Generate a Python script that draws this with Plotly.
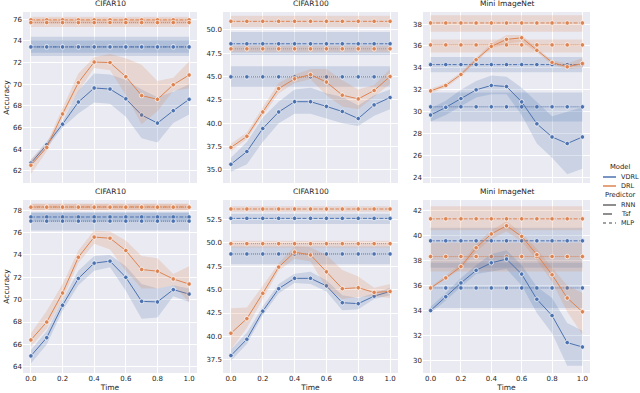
import plotly.graph_objects as go

# time steps on the x axis
t = [0.0, 0.1, 0.2, 0.3, 0.4, 0.5, 0.6, 0.7, 0.8, 0.9, 1.0]

# ---- top row, CIFAR10 ----
a1_vdrl_rnn = [62.7, 64.4, 66.3, 68.35, 69.65, 69.55, 68.65, 67.15, 66.4, 67.55, 68.6]
a1_vdrl_rnn_lo = [62.4, 64.1, 66.0, 67.3, 68.3, 68.2, 67.0, 65.0, 64.6, 66.4, 67.2]
a1_vdrl_rnn_hi = [63.0, 64.7, 66.6, 69.4, 71.0, 70.9, 70.4, 69.5, 68.8, 69.3, 70.0]
a1_drl_rnn = [62.5, 64.15, 67.25, 70.15, 72.05, 72.0, 70.7, 68.95, 68.6, 69.95, 70.85]
a1_drl_rnn_lo = [61.7, 63.8, 66.8, 69.3, 71.5, 71.3, 69.0, 66.3, 67.5, 69.4, 69.6]
a1_drl_rnn_hi = [63.0, 64.5, 67.8, 71.0, 72.5, 72.8, 72.4, 71.8, 70.3, 70.6, 72.1]
a1_tsf = {"VDRL": (73.45, 72.6, 74.4), "DRL": (75.95, 75.6, 76.25)}
a1_mlp = {"VDRL": (73.45, 72.9, 74.1), "DRL": (75.7, 75.3, 76.05)}

# ---- top row, CIFAR100 ----
a2_vdrl_rnn = [35.6, 36.96, 39.43, 41.2, 42.3, 42.3, 41.8, 41.25, 40.5, 41.96, 42.75]
a2_vdrl_rnn_lo = [34.8, 35.6, 38.0, 40.0, 41.0, 41.0, 40.5, 40.0, 39.7, 40.8, 41.5]
a2_vdrl_rnn_hi = [36.3, 38.0, 40.6, 42.3, 43.6, 43.8, 43.2, 42.8, 41.9, 43.0, 43.6]
a2_drl_rnn = [37.4, 38.6, 41.2, 43.7, 44.75, 45.2, 44.4, 43.0, 42.6, 43.5, 45.0]
a2_drl_rnn_lo = [37.0, 38.3, 40.8, 43.2, 44.3, 44.7, 43.0, 41.8, 41.5, 42.8, 44.2]
a2_drl_rnn_hi = [37.8, 39.0, 41.7, 44.3, 45.2, 45.8, 45.8, 44.6, 43.6, 44.1, 45.8]
a2_tsf = {"VDRL": (48.5, 47.3, 49.75), "DRL": (50.9, 50.3, 51.5)}
a2_mlp = {"VDRL": (44.96, 43.9, 46.1), "DRL": (47.96, 47.6, 48.3)}

# ---- top row, Mini ImageNet ----
a3_vdrl_rnn = [29.7, 30.4, 31.2, 32.0, 32.4, 32.3, 30.9, 28.9, 27.7, 27.1, 27.7]
a3_vdrl_rnn_lo = [29.1, 29.7, 30.5, 31.3, 31.6, 31.6, 29.7, 27.1, 25.8, 24.3, 24.8]
a3_vdrl_rnn_hi = [30.3, 31.0, 32.0, 32.8, 33.3, 33.2, 32.2, 30.9, 29.6, 30.0, 30.4]
a3_drl_rnn = [31.9, 32.4, 33.4, 34.75, 35.96, 36.6, 36.75, 35.6, 34.5, 34.1, 34.4]
a3_drl_rnn_lo = [31.7, 32.2, 33.2, 34.55, 35.8, 36.2, 36.4, 35.4, 34.3, 33.9, 34.0]
a3_drl_rnn_hi = [32.1, 32.6, 33.6, 34.95, 36.2, 37.0, 37.0, 35.8, 34.7, 34.4, 34.9]
a3_tsf = {"VDRL": (34.3, 33.6, 35.0), "DRL": (38.1, 37.3, 38.8)}
a3_mlp = {"VDRL": (30.45, 29.1, 31.75), "DRL": (36.1, 35.4, 36.6)}

# ---- bottom row, CIFAR10 ----
b1_vdrl_rnn = [64.97, 66.6, 69.5, 71.9, 73.27, 73.45, 72.0, 69.85, 69.8, 70.9, 70.5]
b1_vdrl_rnn_lo = [64.3, 66.0, 69.0, 71.3, 72.6, 72.9, 70.8, 68.3, 68.4, 70.3, 69.8]
b1_vdrl_rnn_hi = [65.5, 67.2, 70.0, 72.6, 73.9, 74.0, 73.0, 71.4, 71.0, 71.3, 71.0]
b1_drl_rnn = [66.4, 68.0, 70.6, 73.8, 75.6, 75.5, 74.4, 72.7, 72.55, 71.85, 71.4]
b1_drl_rnn_lo = [65.8, 67.4, 70.0, 73.3, 75.0, 74.5, 72.6, 71.0, 71.0, 71.3, 69.8]
b1_drl_rnn_hi = [67.0, 69.0, 71.4, 74.4, 76.2, 76.1, 75.3, 73.9, 73.7, 72.3, 73.0]
b1_tsf = {"VDRL": (77.4, 77.0, 77.8), "DRL": (78.3, 78.0, 78.6)}
b1_mlp = {"VDRL": (77.03, 76.2, 77.8), "DRL": (78.28, 78.0, 78.55)}

# ---- bottom row, CIFAR100 ----
b2_vdrl_rnn = [37.96, 39.7, 42.7, 45.1, 46.2, 46.2, 45.4, 43.6, 43.5, 44.3, 44.8]
b2_vdrl_rnn_lo = [37.4, 39.2, 42.3, 44.6, 45.7, 45.6, 44.8, 42.8, 42.9, 44.0, 44.4]
b2_vdrl_rnn_hi = [38.6, 40.4, 43.2, 45.6, 46.7, 46.9, 46.0, 44.4, 44.1, 44.6, 45.2]
b2_drl_rnn = [40.34, 41.9, 44.6, 47.4, 49.0, 48.7, 46.9, 45.1, 45.2, 44.7, 44.8]
b2_drl_rnn_lo = [38.6, 40.9, 44.0, 47.0, 48.3, 48.0, 45.2, 44.0, 44.2, 44.3, 44.1]
b2_drl_rnn_hi = [43.0, 43.1, 45.4, 47.8, 49.6, 49.5, 48.7, 47.1, 46.4, 45.2, 45.6]
b2_tsf = {"VDRL": (52.6, 52.0, 53.1), "DRL": (53.6, 53.3, 53.9)}
b2_mlp = {"VDRL": (48.8, 47.7, 49.6), "DRL": (49.9, 49.5, 50.2)}

# ---- bottom row, Mini ImageNet ----
b3_vdrl_rnn = [34.0, 35.1, 36.2, 37.2, 37.8, 38.1, 36.9, 34.9, 33.6, 31.45, 31.1]
b3_vdrl_rnn_lo = [33.8, 34.8, 35.9, 36.9, 37.1, 37.3, 36.0, 33.8, 32.2, 29.6, 29.6]
b3_vdrl_rnn_hi = [34.3, 35.4, 36.6, 37.6, 38.5, 38.8, 37.6, 35.9, 35.0, 33.0, 32.4]
b3_drl_rnn = [35.8, 36.6, 37.5, 39.0, 40.1, 40.75, 39.9, 38.45, 36.85, 35.0, 33.9]
b3_drl_rnn_lo = [35.7, 36.5, 37.3, 38.7, 39.7, 40.3, 39.5, 38.0, 36.3, 33.9, 32.1]
b3_drl_rnn_hi = [35.9, 36.8, 37.7, 39.3, 40.4, 41.1, 40.2, 38.9, 37.4, 36.0, 35.4]
b3_tsf = {"VDRL": (39.55, 37.4, 40.6), "DRL": (41.3, 40.4, 42.3)}
b3_mlp = {"VDRL": (35.8, 34.2, 37.8), "DRL": (38.3, 37.1, 39.4)}

titles = ["CIFAR10", "CIFAR100", "Mini ImageNet", "CIFAR10", "CIFAR100", "Mini ImageNet"]

panels = [
    (a1_vdrl_rnn, a1_vdrl_rnn_lo, a1_vdrl_rnn_hi, a1_drl_rnn, a1_drl_rnn_lo, a1_drl_rnn_hi, a1_tsf, a1_mlp),
    (a2_vdrl_rnn, a2_vdrl_rnn_lo, a2_vdrl_rnn_hi, a2_drl_rnn, a2_drl_rnn_lo, a2_drl_rnn_hi, a2_tsf, a2_mlp),
    (a3_vdrl_rnn, a3_vdrl_rnn_lo, a3_vdrl_rnn_hi, a3_drl_rnn, a3_drl_rnn_lo, a3_drl_rnn_hi, a3_tsf, a3_mlp),
    (b1_vdrl_rnn, b1_vdrl_rnn_lo, b1_vdrl_rnn_hi, b1_drl_rnn, b1_drl_rnn_lo, b1_drl_rnn_hi, b1_tsf, b1_mlp),
    (b2_vdrl_rnn, b2_vdrl_rnn_lo, b2_vdrl_rnn_hi, b2_drl_rnn, b2_drl_rnn_lo, b2_drl_rnn_hi, b2_tsf, b2_mlp),
    (b3_vdrl_rnn, b3_vdrl_rnn_lo, b3_vdrl_rnn_hi, b3_drl_rnn, b3_drl_rnn_lo, b3_drl_rnn_hi, b3_tsf, b3_mlp),
]

# layout (pixel boxes of the plot areas)
W, H = 640, 393
col_px = [(23, 197), (223, 398), (423, 590)]
row_px = [(12, 183), (200, 373)]
y_ranges = [[60.86, 76.68], [33.6, 51.9], [23.5, 39.1], [63.44, 78.92], [36.1, 54.56], [29.03, 42.8]]
y_dticks = [2, 2.5, 2, 2, 2.5, 2]

colors = {"VDRL": "#4C72B0", "DRL": "#DD8452"}
bands = {"VDRL": "rgba(76,114,176,0.2)", "DRL": "rgba(221,132,82,0.2)"}
dashes = {"RNN": "solid", "Tsf": "4px,1.5px", "MLP": "1px,1px"}
FONT = "DejaVu Sans"
TXT = "#262626"

fig = go.Figure()


def add_series(idx, y, lo, hi, model, pred):
    ax = "" if idx == 0 else str(idx + 1)
    xa, ya = "x" + ax, "y" + ax
    fig.add_trace(go.Scatter(x=t, y=hi, xaxis=xa, yaxis=ya, mode="lines",
                             line=dict(width=0), showlegend=False, hoverinfo="skip"))
    fig.add_trace(go.Scatter(x=t, y=lo, xaxis=xa, yaxis=ya, mode="lines", fill="tonexty",
                             fillcolor=bands[model], line=dict(width=0),
                             showlegend=False, hoverinfo="skip"))
    fig.add_trace(go.Scatter(x=t, y=y, xaxis=xa, yaxis=ya, mode="lines+markers",
                             line=dict(color=colors[model], width=1, dash=dashes[pred]),
                             marker=dict(size=4.5, color=colors[model],
                                         line=dict(color="white", width=0.7)),
                             showlegend=False, name=model + " " + pred))


for i, p in enumerate(panels):
    v, vlo, vhi, d, dlo, dhi, tsf, mlp = p
    for model in ["VDRL", "DRL"]:
        for pred, src in [("Tsf", tsf), ("MLP", mlp)]:
            m, lo, hi = src[model]
            add_series(i, [m] * len(t), [lo] * len(t), [hi] * len(t), model, pred)
    add_series(i, v, vlo, vhi, "VDRL", "RNN")
    add_series(i, d, dlo, dhi, "DRL", "RNN")

    r, c = divmod(i, 3)
    ax = "" if i == 0 else str(i + 1)
    x0, x1 = col_px[c]
    y0, y1 = row_px[r]
    fig.layout["xaxis" + ax] = dict(
        domain=[x0 / W, x1 / W], anchor="y" + ax, range=[-0.05, 1.05],
        tickvals=t[::2], ticktext=["0.0", "0.2", "0.4", "0.6", "0.8", "1.0"],
        showticklabels=(r == 1), showgrid=True, gridcolor="white", gridwidth=1,
        zeroline=False, showline=False, ticks="", automargin=False,
        tickfont=dict(size=7, family=FONT, color=TXT),
        title=dict(text="Time" if r == 1 else "", font=dict(size=7.5, family=FONT, color=TXT),
                   standoff=2),
    )
    fig.layout["yaxis" + ax] = dict(
        domain=[1 - y1 / H, 1 - y0 / H], anchor="x" + ax, range=y_ranges[i],
        dtick=y_dticks[i], tickformat=".1f" if y_dticks[i] == 2.5 else "d",
        showgrid=True, gridcolor="white", gridwidth=1, zeroline=False, showline=False,
        ticks="", automargin=False, tickfont=dict(size=7, family=FONT, color=TXT),
        title=dict(text="Accuracy" if c == 0 else "", font=dict(size=7.5, family=FONT, color=TXT),
                   standoff=2),
    )
    fig.add_annotation(text=titles[i], x=(x0 + x1) / 2 / W, y=1 - (y0 - 2) / H,
                       xref="paper", yref="paper", xanchor="center", yanchor="bottom",
                       showarrow=False, font=dict(size=7.5, family=FONT, color=TXT))

# hand-drawn legend on the right
leg_items = [
    ("Model", None, None, 167),
    ("VDRL", colors["VDRL"], "solid", 177),
    ("DRL", colors["DRL"], "solid", 186),
    ("Predictor", None, None, 195),
    ("RNN", "#444444", "solid", 205),
    ("Tsf", "#444444", "dash", 214),
    ("MLP", "#444444", "dot", 223),
]
for label, col, dash, ypx in leg_items:
    if col is None:
        fig.add_annotation(text=label, x=620 / W, y=1 - ypx / H, xref="paper", yref="paper",
                           xanchor="center", yanchor="middle", showarrow=False,
                           font=dict(size=6.8, family=FONT, color=TXT))
    else:
        fig.add_shape(type="line", xref="paper", yref="paper", x0=603 / W, x1=616 / W,
                      y0=1 - ypx / H, y1=1 - ypx / H,
                      line=dict(color=col, width=1.2 if col == "#444444" else 1.5, dash=dash))
        fig.add_annotation(text=label, x=619 / W, y=1 - ypx / H, xref="paper", yref="paper",
                           xanchor="left", yanchor="middle", showarrow=False,
                           font=dict(size=6.5, family=FONT, color=TXT))

fig.update_layout(
    width=W, height=H, margin=dict(l=0, r=0, t=0, b=0),
    paper_bgcolor="white", plot_bgcolor="#EAEAF2", showlegend=False,
    font=dict(family=FONT, size=7, color=TXT),
)

# the page body has a default 8px margin; drop it so the figure fills the window
fig.write_html("out.html", config={"displayModeBar": False},
               post_script="document.body.style.margin='0px';")
